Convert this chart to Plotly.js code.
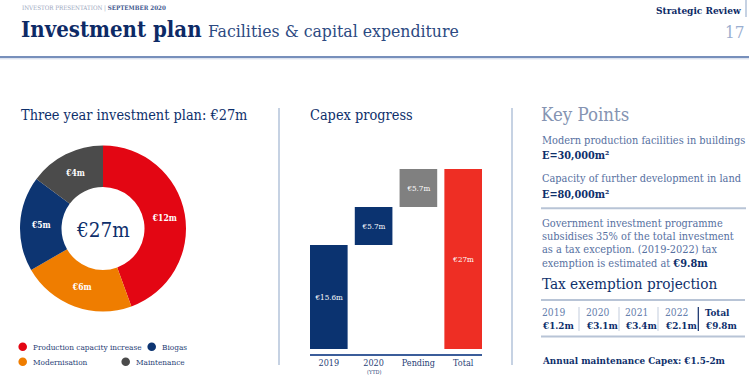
<!DOCTYPE html>
<html>
<head>
<meta charset="utf-8">
<script src="https://cdn.plot.ly/plotly-3.0.1.min.js"></script>
<style>html,body{margin:0;padding:0;background:#fff;}#chart{width:749px;height:380px;}</style>
</head>
<body>
<div id="chart"></div>
<script>
// ---------- DATA ----------
const donutLabels = ['Production capacity increase', 'Modernisation', 'Biogas', 'Maintenance'];
const donutValues = [12, 6, 5, 4];
const donutText = ['€12m', '€6m', '€5m', '€4m'];
const donutColors = ['#e30613', '#ef7d00', '#0d3572', '#4b4b4b'];
const donutCenterLabel = '€27m';

const capexCats = ['2019', '2020', 'Pending', 'Total'];
const capexTickText = ['2019', '2020', 'Pending', 'Total'];
const capexSubLabels = ['', '(YTD)', '', ''];
const capexValues = [15.6, 5.7, 5.7, 27];
const capexText = ['€15.6m', '€5.7m', '€5.7m', '€27m'];
const capexIsTotal = [false, false, false, true];
const capexColors = ['#0b3370', '#0b3370', '#808080', '#ee2e24'];

const taxYears = ['2019', '2020', '2021', '2022', 'Total'];
const taxValues = ['€1.2m', '€3.1m', '€3.4m', '€2.1m', '€9.8m'];

// ---------- HELPERS ----------
const W = 749, H = 380;
const FONT = "'DejaVu Serif Condensed', 'DejaVu Serif', serif";
const NAVY = '#0e2f6b';
const BODY = '#56709f';
const LINE = '#b8c4d6';
const px = x => x / W;
const py = y => 1 - y / H;
function txt(x, y, text, size, color, extra) {
  return Object.assign({
    xref: 'paper', yref: 'paper', x: px(x), y: py(y), text: text, showarrow: false,
    xanchor: 'left', yanchor: 'middle', font: {family: FONT, size: size, color: color}
  }, extra || {});
}
function hline(x0, x1, y, color, w) {
  return {type: 'line', xref: 'paper', yref: 'paper', x0: px(x0), x1: px(x1), y0: py(y), y1: py(y), line: {color: color, width: w}};
}
function vline(x, y0, y1, color, w) {
  return {type: 'line', xref: 'paper', yref: 'paper', x0: px(x), x1: px(x), y0: py(y0), y1: py(y1), line: {color: color, width: w}};
}

// capex bases (stacked waterfall)
const capexBase = [];
let run = 0;
capexValues.forEach((v, i) => {
  if (capexIsTotal[i]) { capexBase.push(0); } else { capexBase.push(run); run += v; }
});

// ---------- TRACES ----------
const pie = {
  type: 'pie', labels: donutLabels, values: donutValues, text: donutText,
  marker: {colors: donutColors, line: {width: 0}},
  hole: 0.5, sort: false, direction: 'clockwise', rotation: 0,
  textinfo: 'text', textposition: 'inside', insidetextorientation: 'horizontal',
  textfont: {family: FONT, size: 8.5, color: '#ffffff', weight: 'bold'},
  domain: {x: [px(20), px(186)], y: [py(311.5), py(145.5)]},
  showlegend: false, hoverinfo: 'skip'
};

const bars = {
  type: 'bar', x: capexCats, y: capexValues, base: capexBase, text: capexText,
  marker: {color: capexColors, line: {width: 0}},
  width: 0.84,
  textposition: 'inside', insidetextanchor: 'middle', textangle: 0,
  textfont: {family: FONT, size: 8, color: '#ffffff'},
  constraintext: 'none',
  xaxis: 'x', yaxis: 'y', showlegend: false, hoverinfo: 'skip', cliponaxis: false
};

// ---------- ANNOTATIONS ----------
const ann = [];
ann.push(txt(20, 7.5, '<span style="color:#9aa6bd">INVESTOR PRESENTATION | </span><b>SEPTEMBER 2020</b>', 6.2, '#3f5a8f'));
ann.push(txt(19, 29, '<b>Investment plan</b> <span style="font-size:17.5px;color:#2d4a82">Facilities &amp; capital expenditure</span>', 22, '#0d2a66'));
ann.push(txt(743, 11, '<b>Strategic Review</b>', 10, '#0d2a66', {xanchor: 'right'}));
ann.push(txt(746, 32, '17', 17, '#9aaed0', {xanchor: 'right'}));

ann.push(txt(19, 115, 'Three year investment plan: €27m', 14.4, NAVY));
ann.push(txt(308, 115, 'Capex progress', 14.4, NAVY));
ann.push(txt(539, 115, 'Key Points', 18.5, '#8594b2'));

// donut center
ann.push({xref: 'paper', yref: 'paper', x: px(103), y: py(230), text: donutCenterLabel, showarrow: false,
  xanchor: 'center', yanchor: 'middle', font: {family: FONT, size: 20.5, color: NAVY}});

// capex sub labels under ticks (category index on the x axis)
capexSubLabels.forEach((s, i) => {
  if (s) ann.push({xref: 'x', yref: 'paper', x: i, y: py(371.5), text: s, showarrow: false,
    xanchor: 'center', yanchor: 'middle', font: {family: FONT, size: 5.5, color: '#1f3e75'}});
});

// donut legend (row-major order as in reference)
const legendOrder = [0, 2, 1, 3];
const legendPos = [[22.7, 346.7], [151.7, 346.7], [22.7, 361.7], [125.7, 361.7]];
const shapes = [];
legendOrder.forEach((idx, k) => {
  const [lx, ly] = legendPos[k];
  shapes.push({type: 'circle', xref: 'paper', yref: 'paper',
    x0: px(lx - 4.3), x1: px(lx + 4.3), y0: py(ly + 4.3), y1: py(ly - 4.3),
    fillcolor: donutColors[idx], line: {width: 0}});
  ann.push(txt(lx + 8, ly, donutLabels[idx], 8.2, '#1f3e75'));
});

// key points
const BS = 10.9;
ann.push(txt(540, 140, 'Modern production facilities in buildings', BS, BODY));
ann.push(txt(540, 156, '<b>E=30,000m²</b>', 10.8, NAVY));
ann.push(txt(540, 178, 'Capacity of further development in land', BS, BODY));
ann.push(txt(540, 194, '<b>E=80,000m²</b>', 10.8, NAVY));
ann.push(txt(540, 223, 'Government investment programme', BS, BODY));
ann.push(txt(540, 236.7, 'subsidises 35% of the total investment', BS, BODY));
ann.push(txt(540, 249.5, 'as a tax exception. (2019-2022) tax', BS, BODY));
ann.push(txt(540, 263.3, 'exemption is estimated at <b><span style="color:#0e2f6b">€9.8m</span></b>', BS, BODY));
ann.push(txt(540, 284, 'Tax exemption projection', 15.2, NAVY));
const taxX = [540, 583.5, 623, 662.5, 702.5];
taxYears.forEach((t, i) => {
  const last = i === taxYears.length - 1;
  ann.push(txt(taxX[i], 312, last ? '<b>' + t + '</b>' : t, last ? 9.8 : 10.2, last ? NAVY : '#6580ad'));
  ann.push(txt(taxX[i], 325.5, '<b>' + taxValues[i] + '</b>', 9.8, NAVY));
});
ann.push(txt(540, 360.7, '<b>Annual maintenance Capex: €1.5-2m</b>', 9.8, NAVY));

// ---------- SHAPES ----------
shapes.push(hline(0, 749, 57, '#4a6aa5', 1.5));
shapes.push(hline(0, 749, 58.8, '#cfd8e8', 1));
shapes.push(vline(746, 0, 17, '#b3c3da', 1.5));
shapes.push(vline(279, 108, 365, '#b3c3da', 1.5));
shapes.push(vline(512, 108, 365, '#b3c3da', 1.5));
shapes.push(hline(541, 746, 208.3, LINE, 2));
shapes.push(hline(541, 745, 300, LINE, 2));
shapes.push(hline(541, 745, 336.5, LINE, 2));
[579, 619, 658].forEach(x => shapes.push(vline(x, 307, 331, '#c3cddd', 1)));
shapes.push(vline(698.3, 307, 331, '#0d2a66', 1.2));

// ---------- LAYOUT ----------
const layout = {
  width: W, height: H, margin: {l: 0, r: 0, t: 0, b: 0},
  paper_bgcolor: '#ffffff', plot_bgcolor: 'rgba(0,0,0,0)',
  font: {family: FONT, color: NAVY},
  showlegend: false,
  xaxis: {
    domain: [px(310), px(482)], range: [-0.42, 3.42], type: 'category',
    tickvals: capexCats, ticktext: capexTickText,
    showline: true, linecolor: '#3b5d9a', linewidth: 1.5,
    showgrid: false, zeroline: false, ticks: '', ticklen: 0,
    tickfont: {family: FONT, size: 9, color: '#1f3e75'}, fixedrange: true
  },
  yaxis: {
    domain: [py(354), py(169)], range: [-0.75, 27],
    visible: false, showgrid: false, zeroline: false, fixedrange: true
  },
  annotations: ann, shapes: shapes, hovermode: false
};

Plotly.newPlot('chart', [pie, bars], layout, {displayModeBar: false, staticPlot: true});
</script>
</body>
</html>
